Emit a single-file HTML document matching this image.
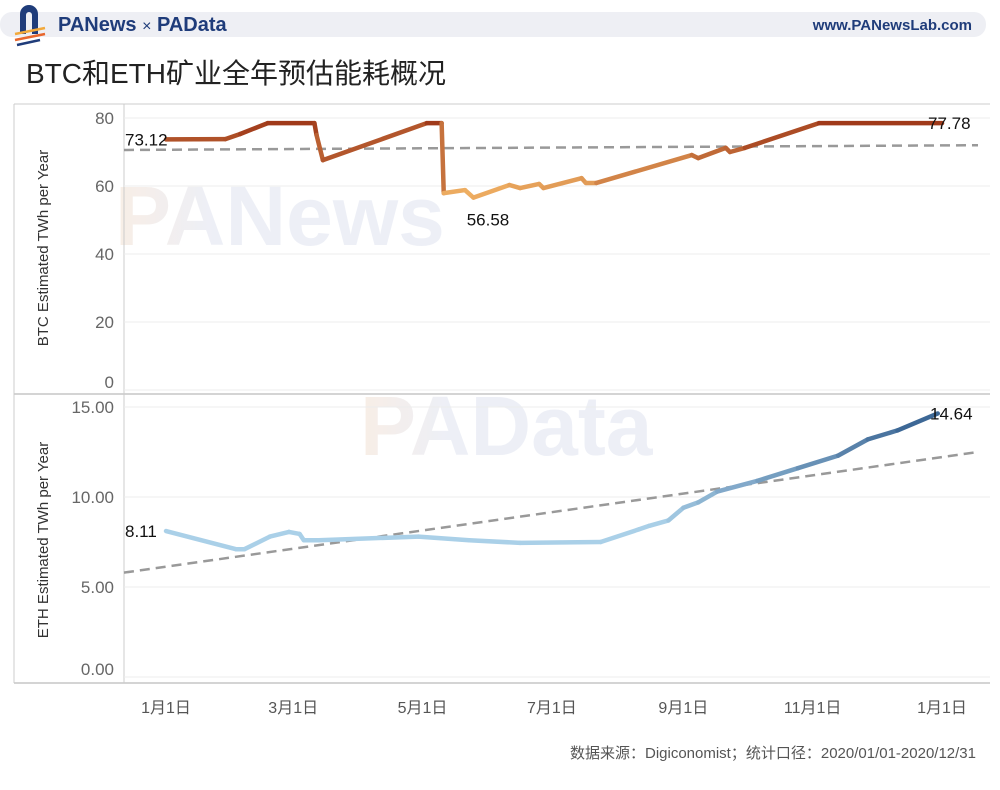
<!DOCTYPE html>
<html><head><meta charset="utf-8">
<style>
body{margin:0;background:#fff;width:1000px;height:785px;overflow:hidden;font-family:"Liberation Sans","Noto Sans CJK SC",sans-serif;}
</style></head>
<body>
<svg id="chart" width="1000" height="785" viewBox="0 0 1000 785" xmlns="http://www.w3.org/2000/svg">
  <defs>
    <linearGradient id="wm" x1="0" x2="1"><stop offset="0" stop-color="#f7ebe0"/><stop offset="0.3" stop-color="#e9ecf5"/><stop offset="1" stop-color="#e9ecf5"/></linearGradient>
  </defs>
  <rect x="0" y="12" width="986" height="25" rx="12" fill="#eeeff4"/>
  <g>
    <path d="M20 34 V14 a9 9 0 0 1 18 0 V34 h-6 V15 a3 3 0 0 0 -6 0 V34z" fill="#1f3c7a"/>
    <line x1="15" y1="34" x2="45" y2="28" stroke="#f2a93b" stroke-width="2.5"/>
    <line x1="15" y1="40" x2="45" y2="34" stroke="#e8662c" stroke-width="2.5"/>
    <line x1="17" y1="45" x2="40" y2="40" stroke="#1f3c7a" stroke-width="2.5"/>
  </g>
  <text x="58" y="31" font-size="20" font-weight="bold" fill="#1f3c7a">PANews <tspan font-weight="normal" font-size="16">×</tspan> PAData</text>
  <text x="972" y="30" font-size="15" font-weight="bold" fill="#1f3c7a" text-anchor="end">www.PANewsLab.com</text>
  <text x="26" y="83" font-size="28" fill="#222">BTC和ETH矿业全年预估能耗概况</text>

  <g font-weight="bold" fill="url(#wm)" opacity="0.8">
    <text x="115" y="245" font-size="84">PANews</text>
    <text x="360" y="455" font-size="84">PAData</text>
  </g>

  <g id="frame" stroke="#ccc" fill="none">
    <line x1="14" y1="104" x2="990" y2="104"/>
    <line x1="14" y1="394" x2="990" y2="394" stroke="#aaa"/>
    <line x1="14" y1="683" x2="990" y2="683" stroke="#aaa"/>
    <line x1="124" y1="104" x2="124" y2="683"/>
    <line x1="14" y1="104" x2="14" y2="683"/>
  </g>
  <g id="grid"></g>
  <g id="trend"></g>
  <g id="series"></g>
  <g id="labels"></g>
  <text transform="translate(48,248) rotate(-90)" font-size="15" fill="#333" text-anchor="middle">BTC Estimated TWh per Year</text>
  <text transform="translate(48,540) rotate(-90)" font-size="15" fill="#333" text-anchor="middle">ETH Estimated TWh per Year</text>
  <text x="976" y="758" font-size="15" fill="#555" text-anchor="end">数据来源：Digiconomist；统计口径：2020/01/01-2020/12/31</text>
</svg>
<script>
const xTickLabels=["1月1日","3月1日","5月1日","7月1日","9月1日","11月1日","1月1日"];
const xTickDays=[0,60,121,182,244,305,366];
const btcTicks=[0,20,40,60,80];
const ethTicks=[0,5,10,15];
const btcDays=[0,28,35,48,70,71,74,123,130,131,141,145,162,167,176,178,196,198,203,248,251,264,266,273,308,366];
const btcVals=[73.7,73.8,75.3,78.5,78.5,75,67.6,78.5,78.5,57.9,58.8,56.58,60.3,59.4,60.6,59.4,62.3,60.9,60.9,69.1,68.2,71.2,70,71.2,78.5,78.5];
const btcTrend=[70.6,72.0];
const ethDays=[0,33,37,49,58,63,65,72,119,143,167,205,223,228,237,244,251,260,279,298,317,331,345,364];
const ethVals=[8.11,7.1,7.1,7.8,8.06,7.95,7.6,7.6,7.8,7.6,7.45,7.5,8.2,8.4,8.7,9.4,9.7,10.3,10.9,11.6,12.3,13.2,13.7,14.64];
const ethTrend=[5.8,12.5];

const NS="http://www.w3.org/2000/svg";
const xS=d=>166+d*(776/366);
const yB=v=>390-v*3.4;
const yE=v=>677-v*18;
function mk(tag,attrs,parent){const e=document.createElementNS(NS,tag);for(const k in attrs)e.setAttribute(k,attrs[k]);document.getElementById(parent).appendChild(e);return e;}
function lerp(a,b,t){return a.map((c,i)=>Math.round(c+(b[i]-c)*t));}
function col(a,b,t){t=Math.max(0,Math.min(1,t));const c=lerp(a,b,t);return `rgb(${c[0]},${c[1]},${c[2]})`;}

btcTicks.forEach(v=>{
  const y=yB(v);
  const g=mk('line',{x1:124,x2:990,y1:y,y2:y,stroke:'#ececec'},'grid');
  
  
  const t=mk('text',{x:114,y:(v===0?382:y)+6,'font-size':17,fill:'#666','text-anchor':'end'},'labels');
  t.textContent=v;
  
  
});
ethTicks.forEach(v=>{
  const y=yE(v);
  const g=mk('line',{x1:124,x2:990,y1:y,y2:y,stroke:'#ececec'},'grid');
  
  
  const t=mk('text',{x:114,y:(v===0?669:y)+6,'font-size':17,fill:'#666','text-anchor':'end'},'labels');
  t.textContent=v.toFixed(2);
  
  
});
xTickLabels.forEach((s,i)=>{
  const t=mk('text',{x:xS(xTickDays[i]),y:713,'font-size':16,fill:'#555','text-anchor':'middle'},'labels');
  t.textContent=s;
  
  
});
const tb=mk('line',{x1:124,x2:978,y1:yB(btcTrend[0]),y2:yB(btcTrend[1]),stroke:'#999','stroke-width':2.5,'stroke-dasharray':'10 6'},'trend');


const te=mk('line',{x1:124,x2:978,y1:yE(ethTrend[0]),y2:yE(ethTrend[1]),stroke:'#999','stroke-width':2.5,'stroke-dasharray':'10 6'},'trend');



for(let i=0;i<btcDays.length-1;i++){
  const m=(btcVals[i]+btcVals[i+1])/2;
  const s=mk('line',{x1:xS(btcDays[i]),y1:yB(btcVals[i]),x2:xS(btcDays[i+1]),y2:yB(btcVals[i+1]),stroke:col([245,184,104],[160,58,26],(m-56)/22),'stroke-width':4.5,'stroke-linecap':'round'},'series');
  
  
}
for(let i=0;i<ethDays.length-1;i++){
  const m=(ethVals[i]+ethVals[i+1])/2;
  const s=mk('line',{x1:xS(ethDays[i]),y1:yE(ethVals[i]),x2:xS(ethDays[i+1]),y2:yE(ethVals[i+1]),stroke:col([170,208,232],[55,98,145],(m-8.5)/6),'stroke-width':4.5,'stroke-linecap':'round'},'series');
  
  
}
const lbls=[
 [125,yB(btcVals[0])+6,'73.12','start','btc-start-label'],
 [928,yB(btcVals[btcVals.length-1])+6,'77.78','start','btc-end-label'],
 [488,yB(56.58)+28,'56.58','middle','btc-min-label'],
 [125,yE(ethVals[0])+6,ethVals[0].toFixed(2),'start','eth-start-label'],
 [930,yE(ethVals[ethVals.length-1])+6,ethVals[ethVals.length-1].toFixed(2),'start','eth-end-label']];
lbls.forEach(l=>{
  const t=mk('text',{x:l[0],y:l[1],'font-size':17,fill:'#111','text-anchor':l[3]},'labels');
  t.textContent=l[2];
  
  
});
</script>
</body></html>
